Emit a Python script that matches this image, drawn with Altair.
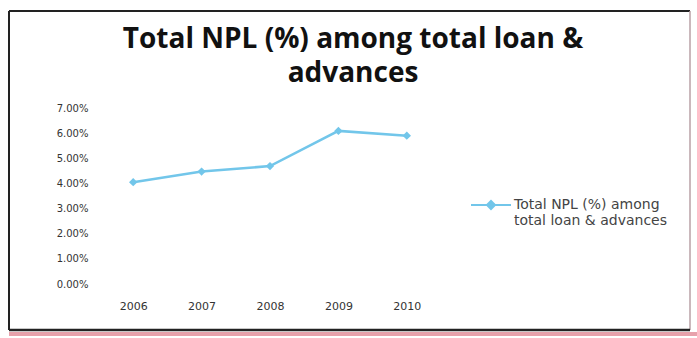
import altair as alt
import pandas as pd

years = ["2006", "2007", "2008", "2009", "2010"]
npl = [0.0405, 0.0447, 0.0469, 0.0609, 0.0590]
series_name = "Total NPL (%) among total loan & advances"
y_ticks = [0.0, 0.01, 0.02, 0.03, 0.04, 0.05, 0.06, 0.07]
title_lines = ["Total NPL (%) among total loan &", "advances"]

df = pd.DataFrame({"year": years, "npl": npl, "series": [series_name] * len(years)})

LINE = "#72C6EA"
W, H = 342, 176

base = alt.Chart(df)

line = base.mark_line(
    strokeWidth=2.5,
    point=alt.OverlayMarkDef(shape="diamond", size=70, filled=True, color=LINE),
).encode(
    x=alt.X("year:N", title=None, sort=years,
            scale=alt.Scale(paddingInner=0, paddingOuter=0),
            axis=alt.Axis(labelAngle=0, domain=False, ticks=False, grid=False,
                          labelFont="DejaVu Sans", labelFontSize=11, labelColor="#333333",
                          labelPadding=16)),
    y=alt.Y("npl:Q", title=None,
            scale=alt.Scale(domain=[0, 0.07], nice=False),
            axis=alt.Axis(values=y_ticks, format=".2%", domain=False, ticks=False, grid=False,
                          labelFont="DejaVu Sans", labelFontSize=10, labelColor="#333333",
                          labelPadding=11)),
    color=alt.Color("series:N", scale=alt.Scale(range=[LINE]),
                    legend=alt.Legend(title=None, orient="none", legendX=371, legendY=76,
                                      symbolType="M-1,0H1M-0.2,0L0,-0.2L0.2,0L0,0.2Z",
                                      symbolSize=1600, symbolStrokeWidth=2,
                                      symbolFillColor=LINE, symbolStrokeColor=LINE,
                                      labelExpr="['Total NPL (%) among', 'total loan & advances']",
                                      labelFont="DejaVu Sans", labelFontSize=14,
                                      labelColor="#444444", labelLimit=0, labelOffset=2)),
)

tdf = pd.DataFrame({"t": ["\n".join(title_lines)]})
title = alt.Chart(tdf).mark_text(
    font="Open Sans", fontSize=28, fontWeight="bold", color="#111111",
    align="center", baseline="middle", lineBreak="\n", lineHeight=34,
).encode(
    text="t:N",
    x=alt.value(254),
    y=alt.value(-68),
)

frame = pd.DataFrame({"k": [0]})
fb = alt.Chart(frame)
top = fb.mark_rule(stroke="#222222", strokeWidth=2).encode(
    x=alt.value(-90), x2=alt.value(591), y=alt.value(-97))
left = fb.mark_rule(stroke="#222222", strokeWidth=2).encode(
    x=alt.value(-90), y=alt.value(-97), y2=alt.value(222))
right = fb.mark_rule(stroke="#b9a0a6", strokeWidth=1.5).encode(
    x=alt.value(591), y=alt.value(-97), y2=alt.value(222))
bottom = fb.mark_rule(stroke="#222222", strokeWidth=2.5).encode(
    x=alt.value(-90), x2=alt.value(591), y=alt.value(222))
red = fb.mark_rule(stroke="#e7a1ab", strokeWidth=4).encode(
    x=alt.value(-90), x2=alt.value(598), y=alt.value(226))

chart = alt.layer(line, title, top, left, right, bottom, red).properties(
    width=W, height=H,
    autosize=alt.AutoSizeParams(type="none"),
    padding={"left": 99, "top": 108, "right": 256, "bottom": 54},
).configure(background="white").configure_view(stroke=None)

chart.save("out.html", embed_options={"renderer": "svg", "actions": False})
